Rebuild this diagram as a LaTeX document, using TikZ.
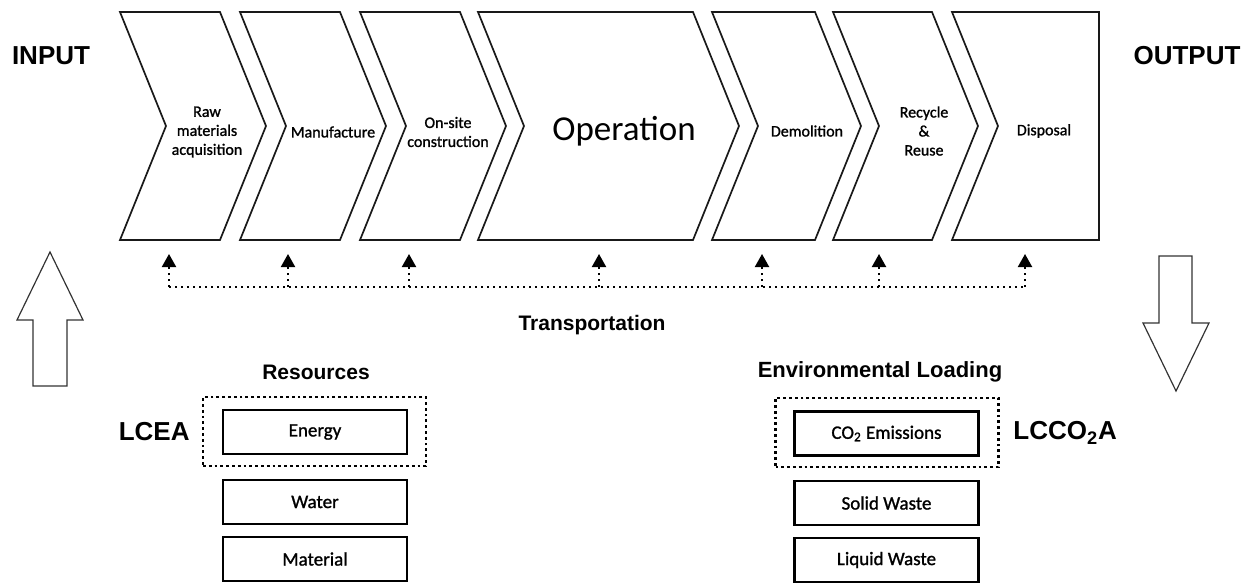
\documentclass[tikz,border=0pt]{standalone}
\usepackage{fontspec}
\setmainfont{Carlito}
\newfontfamily\semifont[FakeBold=1.2]{Carlito}
\newfontfamily\arialfont{Liberation Sans}
\usetikzlibrary{arrows.meta}
\newcommand\chevshape[2]{\draw[chev] (#1,12) -- (#2,12) -- (#2+46,126) -- (#2,240) -- (#1,240) -- (#1+46,126) -- cycle;}
\begin{document}
\begin{tikzpicture}[x=0.5pt,y=-0.5pt,
  chev/.style={draw=black!90,line width=0.85pt,line join=miter},
  lbl/.style={font=\semifont\fontsize{8}{9.5}\selectfont,align=center,inner sep=0pt},
  head/.style={font=\arialfont\bfseries\fontsize{10.5}{12}\selectfont,inner sep=0pt},
  big/.style={font=\arialfont\bfseries\fontsize{13}{15}\selectfont,inner sep=0pt},
  itembox/.style={draw,line width=1.4pt,minimum width=92pt,minimum height=22pt,inner sep=0pt,font=\semifont\fontsize{9.5}{11}\selectfont},
  groupbox/.style={draw,line width=1.2pt,dash pattern=on 1.4pt off 1.5pt,minimum width=111.5pt,minimum height=34.5pt,inner sep=0pt},
  transline/.style={line width=1pt,dash pattern=on 1.2pt off 1.8pt},
  transarrow/.style={transline,-{Triangle[width=7pt,length=6.5pt,sep=0pt]},shorten >=0pt},
  bigarrow/.style={draw=black!80,line width=0.6pt,line join=miter}
]
\useasboundingbox (0,0) rectangle (1257,583);

% chevrons
\chevshape{120}{220}
\chevshape{240}{340}
\chevshape{360}{460}
\chevshape{478}{693}
\chevshape{712}{815}
\chevshape{833}{932}
\draw[chev] (952,12) -- (1099,12) -- (1099,240) -- (952,240) -- (998,126) -- cycle;

% chevron labels
\node[lbl] (c1) at (207,132) {Raw\\materials\\acquisition};
\node[lbl] (c2) at (333,132) {Manufacture};
\node[lbl] (c3) at (448,132) {On-site\\construction};
\node[lbl,font=\fontsize{17.5}{20}\selectfont] (c4) at (624,131) {Operation};
\node[lbl] (c5) at (807,131) {Demolition};
\node[lbl] (c6) at (924,131) {Recycle\\\&\\Reuse};
\node[lbl] (c7) at (1044,131) {Disposal};

% input / output
\node[big] (input) at (51,56) {INPUT};
\node[big] (output) at (1187,56) {OUTPUT};

% transportation
\foreach \i/\x in {1/169,2/288,3/409,4/599,5/762,6/879,7/1025}{
  \coordinate (b\i) at (\x,287);
  \coordinate (t\i) at (\x,254);
}
\draw[transline] (b1) -- (b7);
\foreach \i in {1,...,7}{\draw[transarrow] (b\i) -- (t\i);}
\node[head] (trans) at (592,325) {Transportation};

% big arrows
\draw[bigarrow] (33,386) -- (33,320) -- (17,320) -- (50,252) -- (83,320) -- (67,320) -- (67,386) -- cycle;
\draw[bigarrow] (1159,256) -- (1192,256) -- (1192,323) -- (1209,323) -- (1176,391) -- (1143,323) -- (1159,323) -- cycle;

% resources
\node[head] (res) at (316,372) {Resources};
\node[groupbox] (lceabox) at (314.5,431.5) {};
\node[itembox] (energy) at (315,432) {Energy};
\node[itembox] (water) at (315,502) {Water};
\node[itembox] (material) at (315,559) {Material};
\node[big,anchor=east] (lcea) at (190,432) {LCEA};

% environmental loading
\node[head,font=\arialfont\bfseries\fontsize{11}{13}\selectfont] (env) at (880,372) {Environmental Loading};
\node[groupbox] (lccobox) at (887,432.5) {};
\node[itembox] (co2) at (886.5,433.5) {CO\textsubscript{2} Emissions};
\node[itembox] (solid) at (886.5,503) {Solid Waste};
\node[itembox] (liquid) at (886.5,560) {Liquid Waste};
\node[big,anchor=west] (lcco) at (1013,433) {LCCO\textsubscript{2}A};
\end{tikzpicture}
\end{document}
